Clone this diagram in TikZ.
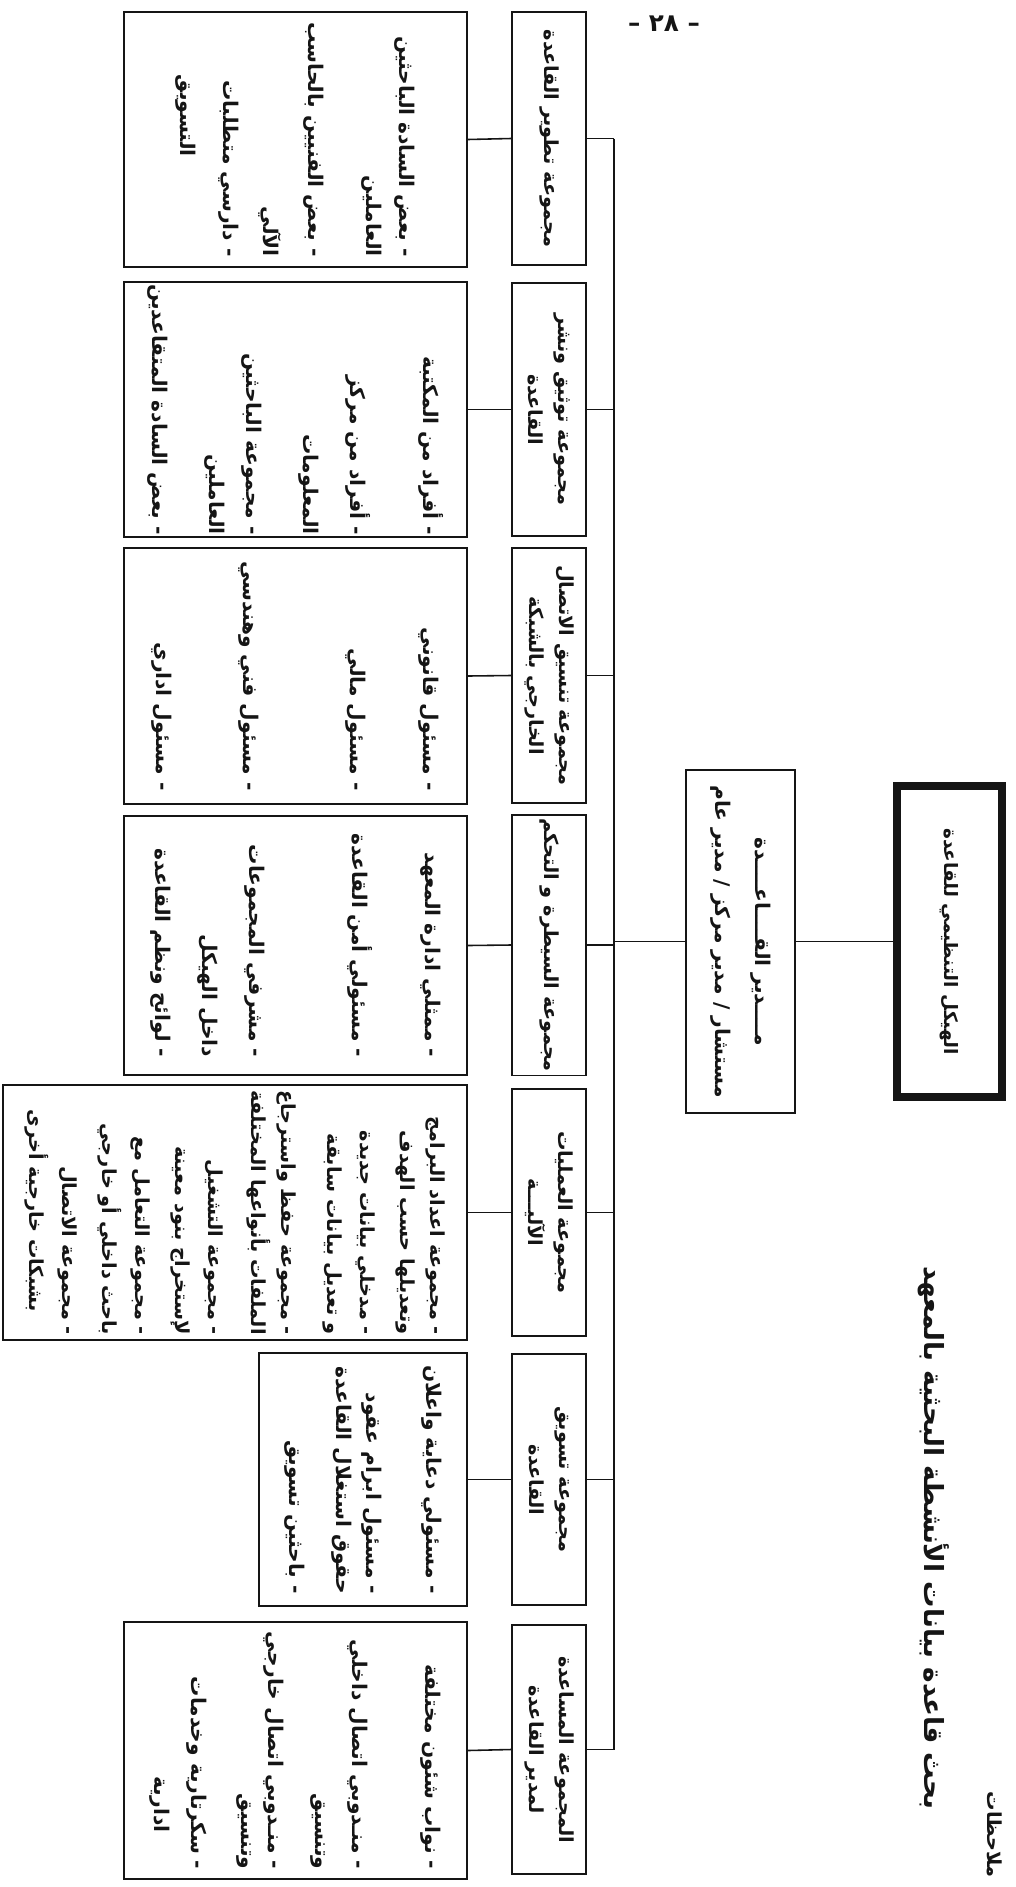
\documentclass[tikz,border=0pt]{standalone}
\usepackage{fontspec}
\newfontfamily\arabicfont[Script=Arabic]{DejaVu Sans}
\TeXXeTstate=1
\usetikzlibrary{positioning, calc}
\definecolor{cInk}{HTML}{151515}
\definecolor{cPaper}{HTML}{FFFFFF}
\newcommand{\arl}[1]{\beginR #1\endR}
\newcommand{\ind}[1]{\hspace*{#1}}
\newcommand{\fixlines}{\lineskiplimit -50pt\relax}
\tikzset{
  arab/.style={font=\arabicfont\bfseries\fontsize{#1}{17.07}\selectfont\fixlines,
    text=cInk},
  titlebox/.style={
    draw=cInk, line width=0.16cm, rotate=-90, inner sep=2pt,
    minimum width=6.22cm, minimum height=2.1cm, arab=10.5
  },
  mgrbox/.style={
    draw=cInk, line width=1.1pt, rotate=-90, inner sep=2pt, align=center,
    minimum width=6.86cm, minimum height=2.18cm, arab=11.5
  },
  headbox/.style={
    draw=cInk, line width=1.1pt, rotate=-90, inner sep=2pt, align=center,
    minimum width=#1, minimum height=1.48cm, arab=11
  },
  itembox/.style 2 args={
    draw=cInk, line width=1.1pt, rotate=-90, inner sep=1pt, align=right,
    minimum width=#1, minimum height=#2, arab=11.5
  },
  link/.style={draw=cInk, line width=0.9pt},
}
\begin{document}
\begin{tikzpicture}[x=0.02cm, y=-0.02cm]
\useasboundingbox (0,0) rectangle (1016,1887);
\clip (0,0) rectangle (1016,1887);
\fill[cPaper] (0,0) rectangle (1016,1887);

% ---- Page furniture ----
\node[arab=14] (pagenum) at (664,24) {– ٢٨ –};
\node[arab=15, rotate=-90] (doctitle) at (934,1538)
  {\arl{بحث قاعدة بيانات الأنشطة البحثية بالمعهد}};
\node[arab=11, rotate=-90, anchor=east] (notes) at (995,1884)
  {\arl{ملاحظات}};

% ---- Top of the chart ----
\node[titlebox] (head) at (949.5,941.5) {\arl{الهيكل التنظيمي للقاعدة}};
\node[mgrbox] (mgr) at (740.5,941.5)
  {\arl{مــــدير القــــاعــــدة}\\[0.2cm]
   \arl{مستشار / مدير مركز / مدير عام}};

% ---- Group headers ----
\node[headbox=5.06cm] (gdev) at (549,138.5) {\arl{مجموعة تطوير القاعدة}};
\node[headbox=5.06cm] (gdoc) at (549,409.5)
  {\arl{مجموعة توثيق ونشر}\\\arl{القاعدة}};
\node[headbox=5.1cm] (glink) at (549,675.5)
  {\arl{مجموعة تنسيق الاتصال}\\\arl{الخارجي بالشبكة}};
\node[headbox=5.04cm] (gctrl) at (549,945) {\arl{مجموعة السيطرة و التحكم}};
\node[headbox=4.94cm] (gops) at (549,1212.5)
  {\arl{مجموعة العمليات}\\\arl{الآليـــة}};
\node[headbox=5.02cm] (gmkt) at (549,1479.5)
  {\arl{مجموعة تسويق}\\\arl{القاعدة}};
\node[headbox=4.98cm] (gaid) at (549,1749.5)
  {\arl{المجموعة المساعدة}\\\arl{لمدير القاعدة}};

% ---- Member lists ----
\node[itembox={5.1cm}{6.86cm}] (idev) at (295.5,139.5)
  {\arl{- بعض السادة الباحثين}\\[0.06cm]
   \arl{العاملين}\ind{2.1cm}\\[0.56cm]
   \arl{- بعض الفنيين بالحاسب}\\[0.3cm]
   \arl{الآلي}\ind{2.5cm}\\[0.2cm]
   \arl{- دارسي متطلبات}\\[0.26cm]
   \arl{التسويق}\ind{2cm}};
\node[itembox={5.06cm}{6.86cm}] (idoc) at (295.5,409.5)
  {\arl{- أفراد من المكتبة}\\[0.86cm]
   \arl{- أفراد من مركز}\\[0.34cm]
   \arl{المعلومات}\ind{1cm}\\[0.54cm]
   \arl{- مجموعة الباحثين}\\[0.14cm]
   \arl{العاملين}\ind{0.95cm}\\[0.54cm]
   \arl{- بعض السادة المتقاعدين}};
\node[itembox={5.12cm}{6.86cm}] (ilink) at (295.5,676)
  {\arl{- مسئول قانوني}\\[0.86cm]
   \arl{- مسئول مالي}\\[1.54cm]
   \arl{- مسئول فني وهندسي}\\[1.14cm]
   \arl{- مسئول اداري}};
\node[itembox={5.18cm}{6.86cm}] (ictrl) at (295.5,945.5)
  {\arl{- ممثلي ادارة المعهد}\\[0.86cm]
   \arl{- مسئولي أمن القاعدة}\\[1.46cm]
   \arl{- مشرفي المجموعات}\\[0.34cm]
   \arl{داخل الهيكل}\ind{0.86cm}\\[0.34cm]
   \arl{- لوائح ونظم القاعدة}};
\node[itembox={5.1cm}{9.28cm}, arab=11] (iops) at (235,1212.5)
  {\arl{- مجموعة اعداد البرامج}\\
   \arl{وتعديلها حسب الهدف}\ind{0.5cm}\\[0.2cm]
   \arl{- مدخلي بيانات جديدة}\\[0.06cm]
   \arl{و تعديل بيانات سابقة}\ind{0.34cm}\\[0.34cm]
   \arl{- مجموعة حفظ واسترجاع}\\
   \arl{الملفات بأنواعها المختلفة}\\[0.26cm]
   \arl{- مجموعة التشغيل}\\[0.06cm]
   \arl{لإستخراج بنود معينة}\ind{0.34cm}\\[0.2cm]
   \arl{- مجموعة التعامل مع}\\[0.06cm]
   \arl{باحث داخلي أو خارجي}\ind{0.34cm}\\[0.2cm]
   \arl{- مجموعة الاتصال}\\[0.06cm]
   \arl{بشبكات خارجية أخرى}\ind{0.46cm}};
\node[itembox={5.06cm}{4.16cm}] (imkt) at (363,1479.5)
  {\arl{- مسئولي دعاية واعلان}\\[0.6cm]
   \arl{- مسئول ابرام عقود}\\
   \arl{حقوق استغلال القاعدة}\ind{0.14cm}\\[0.34cm]
   \arl{- باحثين تسويق}};
\node[itembox={5.14cm}{6.86cm}] (iaid) at (295.5,1750.5)
  {\arl{- نواب شئون مختلفة}\\[0.86cm]
   \arl{- منـدوبي اتصال داخلي}\\[0.14cm]
   \arl{وتنسيق}\ind{0.6cm}\\[0.34cm]
   \arl{- منـدوبي اتصال خارجي}\\[-0.06cm]
   \arl{وتنسيق}\ind{0.74cm}\\[0.4cm]
   \arl{- سكرتارية وخدمات}\\[0.14cm]
   \arl{ادارية}\ind{0.74cm}};

% ---- Connectors ----
\coordinate (bustop) at (614,138.5);
\coordinate (busbot) at (614,1749.5);
\draw[link] (head.south) -- (mgr.north);
\draw[link] (mgr.south) -- (mgr.south -| bustop);
\draw[link] (bustop) -- (busbot);
\foreach \g/\i in {gdev/idev, gdoc/idoc, glink/ilink, gctrl/ictrl,
                   gops/iops, gmkt/imkt, gaid/iaid} {
  \draw[link] (\g.north) -- (\g.north -| bustop);
  \draw[link] (\i.north) -- (\g.south);
}

\end{tikzpicture}
\end{document}
